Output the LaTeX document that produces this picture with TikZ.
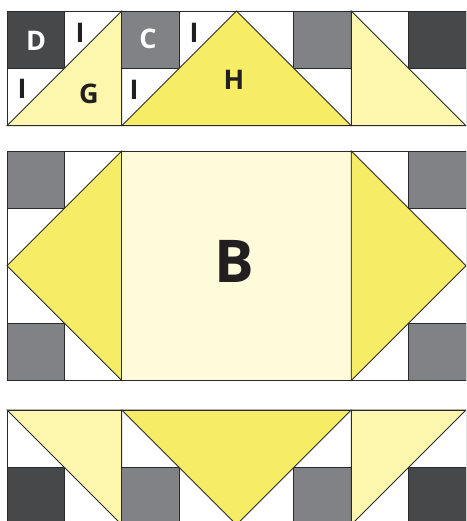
\documentclass[tikz,border=0pt]{standalone}
\usepackage{fontspec}
\setmainfont{Open Sans}
\definecolor{dkgray}{HTML}{47484A}
\definecolor{mdgray}{HTML}{818285}
\definecolor{yel}{HTML}{F6EC66}
\definecolor{ltyel}{HTML}{FDF7AD}
\definecolor{paleyel}{HTML}{FEFBDB}
\definecolor{edge}{HTML}{2A2A2C}
\definecolor{ink}{HTML}{231F20}
\tikzset{
  piece/.style={draw=edge,line width=0.9pt,line join=miter},
  lbl/.style={font=\bfseries\fontsize{27}{27}\selectfont,text=ink,inner sep=0pt},
  wlbl/.style={lbl,text=white}
}
\begin{document}
\begin{tikzpicture}[x=1pt,y=-1pt]
\useasboundingbox (0,0) rectangle (466,521);
\begin{scope}
\clip (0,0) rectangle (466,521);
% ---------- top band ----------
\fill[white] (7,11) rectangle (466,125.75);
\filldraw[piece,fill=dkgray] (7,11) rectangle (64.4,68.4);
\filldraw[piece,fill=ltyel] (121.75,11) -- (121.75,125.75) -- (7,125.75) -- cycle;
\filldraw[piece,fill=mdgray] (121.75,11) rectangle (179.1,68.4);
\filldraw[piece,fill=mdgray] (293.9,11) rectangle (351.25,68.4);
\filldraw[piece,fill=yel] (121.75,125.75) -- (236.5,11) -- (351.25,125.75) -- cycle;
\filldraw[piece,fill=ltyel] (351.25,11) -- (466,125.75) -- (351.25,125.75) -- cycle;
\filldraw[piece,fill=dkgray] (408.6,11) rectangle (466,68.4);
\draw[piece] (7,11) rectangle (466,125.75);
\draw[piece] (121.75,11) -- (121.75,125.75) (351.25,11) -- (351.25,125.75);
\node[wlbl,anchor=base] (d) at (36,51) {D};
\node[wlbl,anchor=base] (c) at (148,49) {C};
\node[lbl,anchor=base] (i1) at (80,43) {I};
\node[lbl,anchor=base] (i2) at (22,99) {I};
\node[lbl,anchor=base] (i3) at (194,43) {I};
\node[lbl,anchor=base] (i4) at (134,100) {I};
\node[lbl,anchor=base] (g) at (89,104) {G};
\node[lbl,anchor=base] (h) at (234,90) {H};
% ---------- middle band ----------
\fill[white] (7,151) rectangle (466,380.5);
\filldraw[piece,fill=mdgray] (7,151) rectangle (64.4,208.4);
\filldraw[piece,fill=mdgray] (7,323.1) rectangle (64.4,380.5);
\filldraw[piece,fill=yel] (121.75,151) -- (7,265.75) -- (121.75,380.5) -- cycle;
\filldraw[piece,fill=paleyel] (121.75,151) rectangle (351.25,380.5);
\filldraw[piece,fill=yel] (351.25,151) -- (466,265.75) -- (351.25,380.5) -- cycle;
\filldraw[piece,fill=mdgray] (408.6,151) rectangle (466,208.4);
\filldraw[piece,fill=mdgray] (408.6,323.1) rectangle (466,380.5);
\draw[piece] (7,151) rectangle (466,380.5);
\node[lbl,anchor=base,font=\bfseries\fontsize{59}{59}\selectfont] (b) at (234.5,282) {B};
% ---------- bottom band ----------
\fill[white] (7,410) rectangle (466,524.75);
\filldraw[piece,fill=ltyel] (7,410) -- (121.75,410) -- (121.75,524.75) -- cycle;
\filldraw[piece,fill=dkgray] (7,467.4) rectangle (64.4,524.75);
\filldraw[piece,fill=mdgray] (121.75,467.4) rectangle (179.1,524.75);
\filldraw[piece,fill=mdgray] (293.9,467.4) rectangle (351.25,524.75);
\filldraw[piece,fill=yel] (121.75,410) -- (351.25,410) -- (236.5,524.75) -- cycle;
\filldraw[piece,fill=ltyel] (351.25,410) -- (466,410) -- (351.25,524.75) -- cycle;
\filldraw[piece,fill=dkgray] (408.6,467.4) rectangle (466,524.75);
\draw[piece] (7,410) rectangle (466,524.75);
\draw[piece] (121.75,410) -- (121.75,524.75) (351.25,410) -- (351.25,524.75);
\end{scope}
\end{tikzpicture}
\end{document}
